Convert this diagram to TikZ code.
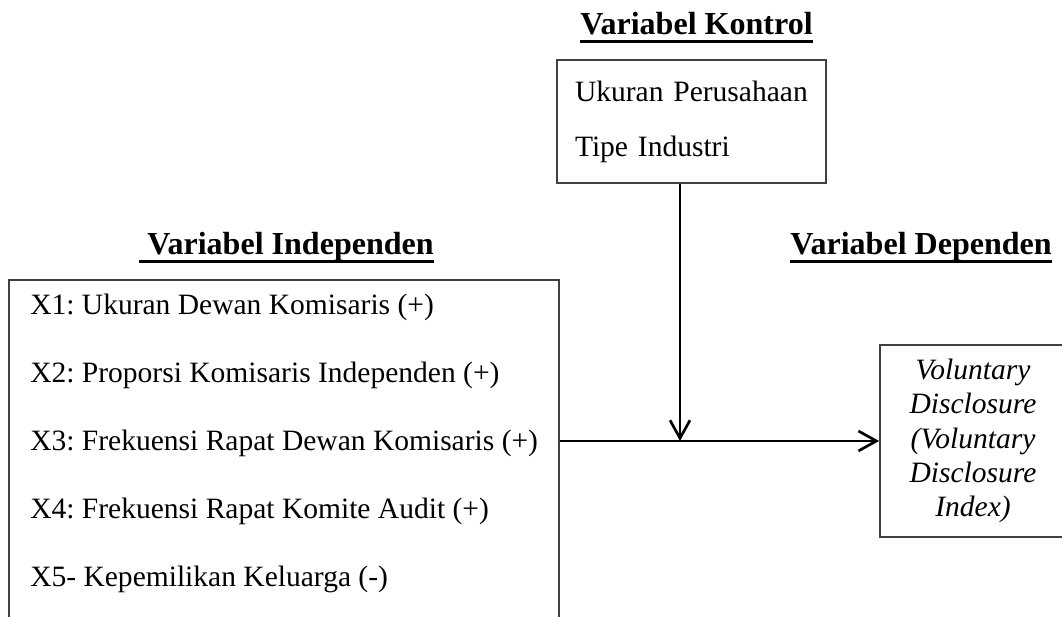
\documentclass[tikz,border=0pt]{standalone}
\usepackage{fontspec}
\setmainfont{Liberation Serif}
\usetikzlibrary{arrows.meta}
\frenchspacing

\begin{document}
\begin{tikzpicture}[scale=1.0,
    varbox/.style={draw=black!75, line width=1.2pt, inner sep=0pt},
    vartitle/.style={font=\fontsize{22.8pt}{27pt}\selectfont\bfseries, inner sep=0pt, anchor=base west},
    listitem/.style={font=\fontsize{21pt}{25pt}\selectfont, inner sep=0pt, anchor=base west},
    underl/.style={line width=2pt},
    flow/.style={-{Straight Barb[length=12.8pt,width=14.2pt,line width=1.9pt]}, line width=1.9pt}]
        \useasboundingbox (0,0) rectangle (26.55,15.425);
        \clip (0,0) rectangle (26.55,15.425);

        % Variabel kontrol
        \node[vartitle] (tkontrol) at (14.5,14.55) {Variabel Kontrol};
        \draw[underl] ([yshift=-0.165cm]tkontrol.base west) -- ([yshift=-0.165cm]tkontrol.base east);
        \node[varbox, minimum width=6.725cm, minimum height=3.075cm, text width=5.825cm, inner xsep=0.45cm,
              align=left, font=\fontsize{21pt}{39.1pt}\selectfont] (kontrol) at (17.2875,12.3875) {Ukuran Perusahaan\\Tipe Industri};

        % Variabel independen
        \node[vartitle] (tindep) at (3.475,9.05) {\ Variabel Independen};
        \draw[underl] ([yshift=-0.165cm]tindep.base west) -- ([yshift=-0.165cm]tindep.base east);
        \node[varbox, anchor=north west, minimum width=13.75cm, minimum height=10cm] (indep) at (0.2,8.45) {};
        \foreach \i/\txt in {1/{X1: Ukuran Dewan Komisaris (+)},
                             2/{X2: Proporsi Komisaris Independen (+)},
                             3/{X3: Frekuensi Rapat Dewan Komisaris (+)},
                             4/{X4: Frekuensi Rapat Komite Audit (+)},
                             5/{X5- Kepemilikan Keluarga (-)}} {
            \node[listitem] (x\i) at ({0.75},{7.55-(\i-1)*1.7}) {\txt};
        }

        % Variabel dependen
        \node[vartitle] (tdep) at (19.75,9.05) {Variabel Dependen};
        \draw[underl] ([yshift=-0.165cm]tdep.base west) -- ([yshift=-0.165cm]tdep.base east);
        \node[varbox, minimum width=4.65cm, minimum height=4.8cm, align=center,
              font=\fontsize{21pt}{24.3pt}\selectfont\itshape] (dep) at (24.325,4.4)
              {Voluntary\\Disclosure\\(Voluntary\\Disclosure\\Index)};

        % Arrows
        \coordinate (join) at (17.0,4.4);
        \draw[flow] (indep.east |- dep.west) -- (dep.west);
        \draw[flow] (kontrol.south -| join) -- (join);

    \end{tikzpicture}
\end{document}
